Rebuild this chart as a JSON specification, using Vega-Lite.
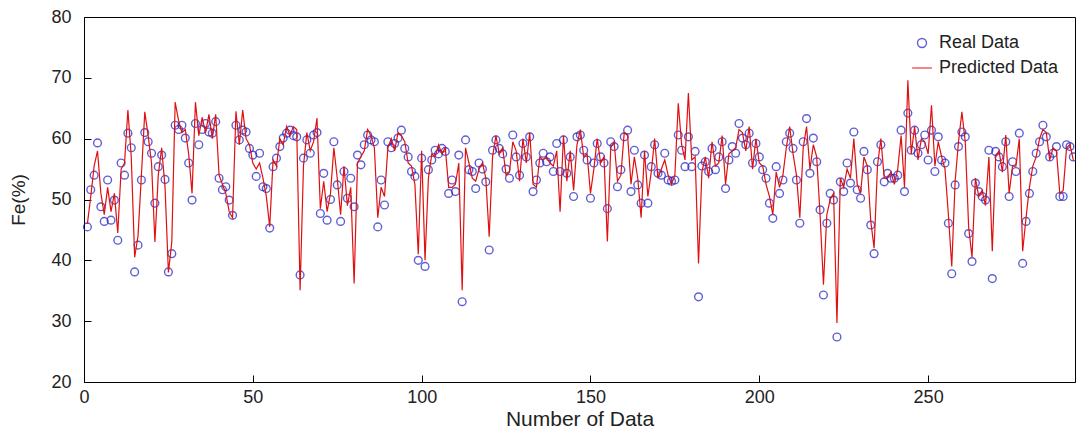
{
  "$schema": "https://vega.github.io/schema/vega-lite/v6.json",
  "width": 991,
  "height": 365,
  "autosize": {"type": "none"},
  "padding": {"left": 84, "top": 17, "right": 1, "bottom": 54},
  "background": "white",
  "config": {
    "font": "Liberation Sans",
    "view": {"stroke": "black", "strokeWidth": 1},
    "axis": {"grid": false, "domainColor": "black", "tickColor": "black", "labelColor": "#222", "titleColor": "#222", "labelFont": "Liberation Sans", "titleFont": "Liberation Sans", "titleFontWeight": "normal"}
  },
  "data": {"values": [
    {"n":1,"real":45.5,"pred":46},{"n":2,"real":51.6,"pred":50.5},{"n":3,"real":54,"pred":55.5},{"n":4,"real":59.3,"pred":58},{"n":5,"real":48.8,"pred":51},
    {"n":6,"real":46.4,"pred":47.5},{"n":7,"real":53.2,"pred":52},{"n":8,"real":46.6,"pred":48},{"n":9,"real":49.9,"pred":51},{"n":10,"real":43.3,"pred":44.5},
    {"n":11,"real":56,"pred":55},{"n":12,"real":54,"pred":56},{"n":13,"real":60.9,"pred":64.7},{"n":14,"real":58.5,"pred":57},{"n":15,"real":38.1,"pred":40.5},
    {"n":16,"real":42.5,"pred":44},{"n":17,"real":53.2,"pred":54},{"n":18,"real":61,"pred":64.4},{"n":19,"real":59.5,"pred":60.5},{"n":20,"real":57.6,"pred":56},
    {"n":21,"real":49.4,"pred":43},{"n":22,"real":55.4,"pred":54},{"n":23,"real":57.3,"pred":58.5},{"n":24,"real":53.3,"pred":52},{"n":25,"real":38.1,"pred":38},
    {"n":26,"real":41.1,"pred":43},{"n":27,"real":62.2,"pred":66},{"n":28,"real":61.5,"pred":63},{"n":29,"real":62.2,"pred":61},{"n":30,"real":60.1,"pred":61.5},
    {"n":31,"real":56,"pred":57.5},{"n":32,"real":49.9,"pred":51},{"n":33,"real":62.5,"pred":66},{"n":34,"real":59,"pred":60.5},{"n":35,"real":61.5,"pred":63.5},
    {"n":36,"real":62.5,"pred":61},{"n":37,"real":61.1,"pred":64},{"n":38,"real":60.9,"pred":60},{"n":39,"real":62.8,"pred":64},{"n":40,"real":53.5,"pred":54},
    {"n":41,"real":51.6,"pred":52.5},{"n":42,"real":52.1,"pred":51},{"n":43,"real":49.9,"pred":48},{"n":44,"real":47.4,"pred":47},{"n":45,"real":62.2,"pred":64.5},
    {"n":46,"real":59.8,"pred":59},{"n":47,"real":61.4,"pred":64.7},{"n":48,"real":61.1,"pred":60},{"n":49,"real":58.4,"pred":59},{"n":50,"real":57.3,"pred":56},
    {"n":51,"real":53.8,"pred":55},{"n":52,"real":57.6,"pred":56},{"n":53,"real":52.1,"pred":53.5},{"n":54,"real":51.8,"pred":50.5},{"n":55,"real":45.3,"pred":45.5},
    {"n":56,"real":55.4,"pred":56.5},{"n":57,"real":56.8,"pred":55.5},{"n":58,"real":58.7,"pred":60},{"n":59,"real":60.1,"pred":59},{"n":60,"real":60.9,"pred":62},
    {"n":61,"real":61.4,"pred":60.5},{"n":62,"real":60.5,"pred":62},{"n":63,"real":60.3,"pred":61.5},{"n":64,"real":37.6,"pred":35.1},{"n":65,"real":56.8,"pred":55.5},
    {"n":66,"real":59.8,"pred":61},{"n":67,"real":57.6,"pred":58},{"n":68,"real":60.6,"pred":59.5},{"n":69,"real":61,"pred":63.4},{"n":70,"real":47.7,"pred":48.5},
    {"n":71,"real":54.3,"pred":53},{"n":72,"real":46.6,"pred":48},{"n":73,"real":50,"pred":51},{"n":74,"real":59.5,"pred":58.5},{"n":75,"real":52.4,"pred":53.5},
    {"n":76,"real":46.4,"pred":47.5},{"n":77,"real":54.6,"pred":55.5},{"n":78,"real":50.2,"pred":49},{"n":79,"real":53.5,"pred":52},{"n":80,"real":48.8,"pred":36.2},
    {"n":81,"real":57.3,"pred":56},{"n":82,"real":55.7,"pred":57},{"n":83,"real":59,"pred":58},{"n":84,"real":60.6,"pred":61.5},{"n":85,"real":59.8,"pred":60.5},
    {"n":86,"real":59.5,"pred":58.5},{"n":87,"real":45.5,"pred":47},{"n":88,"real":53.2,"pred":52},{"n":89,"real":49.1,"pred":50.5},{"n":90,"real":59.5,"pred":58.5},
    {"n":91,"real":58.5,"pred":60},{"n":92,"real":59.2,"pred":58},{"n":93,"real":60.1,"pred":61},{"n":94,"real":61.4,"pred":60.5},{"n":95,"real":58.4,"pred":59.5},
    {"n":96,"real":57,"pred":56},{"n":97,"real":54.6,"pred":55.5},{"n":98,"real":53.8,"pred":52.5},{"n":99,"real":40,"pred":41},{"n":100,"real":56.8,"pred":58},
    {"n":101,"real":39,"pred":40},{"n":102,"real":54.9,"pred":53.5},{"n":103,"real":56.5,"pred":57.5},{"n":104,"real":58.1,"pred":57},{"n":105,"real":57.5,"pred":59},
    {"n":106,"real":58.4,"pred":57.5},{"n":107,"real":57.9,"pred":58.5},{"n":108,"real":51,"pred":52},{"n":109,"real":53.2,"pred":52},{"n":110,"real":51.3,"pred":52.5},
    {"n":111,"real":57.3,"pred":56},{"n":112,"real":33.2,"pred":35.1},{"n":113,"real":59.8,"pred":58.5},{"n":114,"real":54.9,"pred":56},{"n":115,"real":54.6,"pred":53.5},
    {"n":116,"real":51.8,"pred":53},{"n":117,"real":56,"pred":55},{"n":118,"real":55,"pred":56},{"n":119,"real":52.9,"pred":53.5},{"n":120,"real":41.7,"pred":43.9},
    {"n":121,"real":58.1,"pred":57},{"n":122,"real":59.8,"pred":60.5},{"n":123,"real":58.4,"pred":57.5},{"n":124,"real":57.5,"pred":58.5},{"n":125,"real":55,"pred":54},
    {"n":126,"real":53.5,"pred":54.5},{"n":127,"real":60.6,"pred":59.5},{"n":128,"real":57,"pred":58},{"n":129,"real":54,"pred":53},{"n":130,"real":59.2,"pred":60},
    {"n":131,"real":57,"pred":56},{"n":132,"real":60.3,"pred":61},{"n":133,"real":51.3,"pred":52.5},{"n":134,"real":53.2,"pred":52},{"n":135,"real":56,"pred":57},
    {"n":136,"real":57.6,"pred":56.5},{"n":137,"real":56.2,"pred":57},{"n":138,"real":57,"pred":56},{"n":139,"real":54.6,"pred":55.5},{"n":140,"real":59.2,"pred":58},
    {"n":141,"real":54.6,"pred":48},{"n":142,"real":59.8,"pred":60.5},{"n":143,"real":54.3,"pred":53},{"n":144,"real":57,"pred":58},{"n":145,"real":50.5,"pred":51.5},
    {"n":146,"real":60.3,"pred":59},{"n":147,"real":60.6,"pred":61.5},{"n":148,"real":58.1,"pred":57},{"n":149,"real":56.5,"pred":57.5},{"n":150,"real":50.2,"pred":51},
    {"n":151,"real":56,"pred":55},{"n":152,"real":59.2,"pred":60},{"n":153,"real":57,"pred":56},{"n":154,"real":56,"pred":57},{"n":155,"real":48.5,"pred":43.1},
    {"n":156,"real":59.5,"pred":58.5},{"n":157,"real":58.7,"pred":59.5},{"n":158,"real":52.1,"pred":53},{"n":159,"real":54.9,"pred":54},{"n":160,"real":60.3,"pred":61},
    {"n":161,"real":61.4,"pred":60.5},{"n":162,"real":51.3,"pred":52.5},{"n":163,"real":58.1,"pred":57},{"n":164,"real":52.4,"pred":53.5},{"n":165,"real":49.4,"pred":47},
    {"n":166,"real":57.3,"pred":58},{"n":167,"real":49.4,"pred":50.5},{"n":168,"real":55.4,"pred":54.5},{"n":169,"real":59,"pred":60},{"n":170,"real":54.3,"pred":53.5},
    {"n":171,"real":54,"pred":55},{"n":172,"real":57.6,"pred":56.5},{"n":173,"real":53.2,"pred":54},{"n":174,"real":53,"pred":52.5},{"n":175,"real":53.2,"pred":54},
    {"n":176,"real":60.6,"pred":65.8},{"n":177,"real":58.1,"pred":59},{"n":178,"real":55.4,"pred":56.5},{"n":179,"real":60.3,"pred":67.5},{"n":180,"real":55.4,"pred":56.5},
    {"n":181,"real":57.9,"pred":57},{"n":182,"real":34,"pred":39.5},{"n":183,"real":55.5,"pred":54.5},{"n":184,"real":56.2,"pred":57},{"n":185,"real":54.6,"pred":53.5},
    {"n":186,"real":58.4,"pred":59.5},{"n":187,"real":54.9,"pred":55.5},{"n":188,"real":57,"pred":56},{"n":189,"real":59.5,"pred":60.5},{"n":190,"real":51.8,"pred":52.5},
    {"n":191,"real":56.5,"pred":57.5},{"n":192,"real":58.7,"pred":58},{"n":193,"real":57.6,"pred":58.5},{"n":194,"real":62.5,"pred":61.5},{"n":195,"real":60.1,"pred":61},
    {"n":196,"real":59,"pred":58},{"n":197,"real":60.9,"pred":62},{"n":198,"real":56,"pred":55},{"n":199,"real":59.2,"pred":60},{"n":200,"real":57,"pred":56},
    {"n":201,"real":54.9,"pred":55.5},{"n":202,"real":53.5,"pred":52.5},{"n":203,"real":49.4,"pred":50.5},{"n":204,"real":46.9,"pred":47.5},{"n":205,"real":55.4,"pred":54.5},
    {"n":206,"real":51,"pred":52},{"n":207,"real":53.2,"pred":54},{"n":208,"real":59.5,"pred":58.5},{"n":209,"real":60.9,"pred":62},{"n":210,"real":58.4,"pred":57.5},
    {"n":211,"real":53.2,"pred":54},{"n":212,"real":46.1,"pred":47},{"n":213,"real":59.5,"pred":58.5},{"n":214,"real":63.3,"pred":62},{"n":215,"real":54.3,"pred":55},
    {"n":216,"real":60.1,"pred":59},{"n":217,"real":56.2,"pred":57},{"n":218,"real":48.3,"pred":47.5},{"n":219,"real":34.3,"pred":36},{"n":220,"real":46.1,"pred":47.5},
    {"n":221,"real":51,"pred":50},{"n":222,"real":49.9,"pred":51},{"n":223,"real":27.4,"pred":29.7},{"n":224,"real":52.9,"pred":53.5},{"n":225,"real":51.3,"pred":52},
    {"n":226,"real":56,"pred":55},{"n":227,"real":52.7,"pred":53.5},{"n":228,"real":61.1,"pred":60},{"n":229,"real":51.6,"pred":52.5},{"n":230,"real":50.2,"pred":51},
    {"n":231,"real":57.9,"pred":57},{"n":232,"real":54.9,"pred":55.5},{"n":233,"real":45.8,"pred":46.5},{"n":234,"real":41.1,"pred":42},{"n":235,"real":56.2,"pred":55.5},
    {"n":236,"real":59,"pred":60},{"n":237,"real":52.9,"pred":53.5},{"n":238,"real":54.3,"pred":53.5},{"n":239,"real":53.5,"pred":54.5},{"n":240,"real":53.5,"pred":52.5},
    {"n":241,"real":54,"pred":55},{"n":242,"real":61.4,"pred":60.5},{"n":243,"real":51.3,"pred":52},{"n":244,"real":64.2,"pred":69.6},{"n":245,"real":58.1,"pred":57.5},
    {"n":246,"real":61.4,"pred":62},{"n":247,"real":57.6,"pred":56.5},{"n":248,"real":59,"pred":60},{"n":249,"real":60.6,"pred":59.5},{"n":250,"real":56.5,"pred":57.5},
    {"n":251,"real":61.4,"pred":65.5},{"n":252,"real":54.6,"pred":55.5},{"n":253,"real":60.3,"pred":59.5},{"n":254,"real":56.5,"pred":57},{"n":255,"real":56,"pred":55},
    {"n":256,"real":46.1,"pred":47.5},{"n":257,"real":37.8,"pred":39},{"n":258,"real":52.4,"pred":53},{"n":259,"real":58.7,"pred":59.5},{"n":260,"real":61.1,"pred":64.4},
    {"n":261,"real":60.3,"pred":59.5},{"n":262,"real":44.4,"pred":45.5},{"n":263,"real":39.8,"pred":40.5},{"n":264,"real":52.7,"pred":53.5},{"n":265,"real":51.3,"pred":50.5},
    {"n":266,"real":50.5,"pred":51.5},{"n":267,"real":49.9,"pred":49},{"n":268,"real":58.1,"pred":57},{"n":269,"real":37,"pred":41.5},{"n":270,"real":57.9,"pred":57},
    {"n":271,"real":57,"pred":58},{"n":272,"real":55.4,"pred":54.5},{"n":273,"real":59.5,"pred":60.6},{"n":274,"real":50.5,"pred":51},{"n":275,"real":56.2,"pred":55.5},
    {"n":276,"real":54.6,"pred":55.5},{"n":277,"real":60.9,"pred":60},{"n":278,"real":39.5,"pred":41.5},{"n":279,"real":46.4,"pred":47},{"n":280,"real":51,"pred":52},
    {"n":281,"real":54.6,"pred":55.5},{"n":282,"real":57.6,"pred":57},{"n":283,"real":59.5,"pred":60},{"n":284,"real":62.2,"pred":61.5},{"n":285,"real":60.3,"pred":61},
    {"n":286,"real":57,"pred":56.5},{"n":287,"real":57.6,"pred":58.5},{"n":288,"real":58.7,"pred":58},{"n":289,"real":50.5,"pred":51},{"n":290,"real":50.5,"pred":51.5},
    {"n":291,"real":59,"pred":58.5},{"n":292,"real":58.7,"pred":59},{"n":293,"real":57,"pred":56.5}
  ]},
  "layer": [
    {
      "mark": {"type": "point", "filled": false, "size": 60, "strokeWidth": 1.4},
      "encoding": {
        "x": {"field": "n", "type": "quantitative", "scale": {"domain": [0, 293.5], "nice": false, "zero": false},
          "axis": {"values": [0, 50, 100, 150, 200, 250], "title": "Number of Data", "labelFontSize": 18, "titleFontSize": 21, "tickSize": -7, "labelPadding": 13, "titlePadding": 2, "labelFlush": false}},
        "y": {"field": "real", "type": "quantitative", "scale": {"domain": [20, 80], "nice": false, "zero": false},
          "axis": {"values": [20, 30, 40, 50, 60, 70, 80], "title": "Fe(%)", "labelFontSize": 18, "titleFontSize": 19, "tickSize": -7, "labelPadding": 20, "titlePadding": 22}},
        "color": {"datum": "Real Data", "type": "nominal", "scale": {"domain": ["Real Data", "Predicted Data"], "range": ["#1c1cc4", "#e01010"]},
          "legend": {"title": null, "orient": "none", "legendX": 829, "legendY": 17, "labelFontSize": 18, "labelColor": "#222", "labelOffset": 8, "rowPadding": 7, "padding": 0, "symbolStrokeWidth": 1.4, "symbolSize": 81}},
        "shape": {"datum": "Real Data", "type": "nominal", "scale": {"domain": ["Real Data", "Predicted Data"], "range": ["circle", "M-2.2,0H2.2"]}}
      }
    },
    {
      "mark": {"type": "line", "strokeWidth": 1.2, "interpolate": "linear"},
      "encoding": {
        "x": {"field": "n", "type": "quantitative"},
        "y": {"field": "pred", "type": "quantitative"},
        "color": {"datum": "Predicted Data", "type": "nominal"}
      }
    }
  ]
}
